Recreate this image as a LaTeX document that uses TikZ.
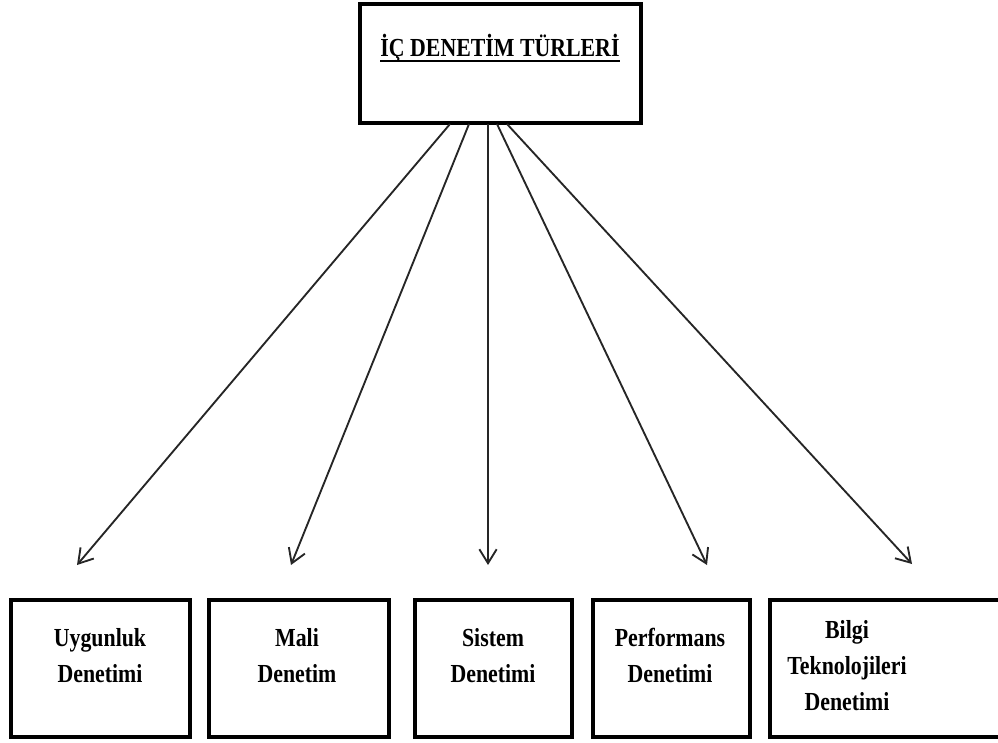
\documentclass[tikz,border=0pt]{standalone}
\usepackage{fontspec}
\setmainfont{Liberation Serif}
\newfontfamily\narrowserif[FakeStretch=0.84]{Liberation Serif}
\usetikzlibrary{arrows.meta}

% underline with a heavier rule a little below the baseline
\newcommand\heavyunderline[1]{\setbox0\hbox{#1}\rlap{\rule[-3.6pt]{\wd0}{1.3pt}}\box0}

\begin{document}
\begin{tikzpicture}[x=0.75pt,y=-0.75pt,
  frame/.style={draw=black,line width=3pt,rectangle,inner sep=0pt},
  boxtext/.style={font=\narrowserif\bfseries\fontsize{19.5}{27}\selectfont,align=center,inner sep=0pt,anchor=north},
  link/.style={draw=black!85,line width=1.4pt,-{Straight Barb[length=10.5pt,width=13pt,line width=1.4pt]}}]
\useasboundingbox (0,0) rectangle (998,742);

% heading box and its underlined title
\node[frame,minimum width=211.1pt,minimum height=88.9pt] (top) at (500.25,63.75) {};
\node[font=\narrowserif\bfseries\fontsize{19.5}{22}\selectfont,anchor=base,inner sep=0pt] (title) at (500,57)
  {\heavyunderline{İÇ DENETİM TÜRLERİ}};

% the five kinds of audit
\node[frame,minimum width=134.6pt,minimum height=103.1pt] (b1) at (100.25,668.25) {};
\node[frame,minimum width=135pt,minimum height=103.1pt] (b2) at (299,668.25) {};
\node[frame,minimum width=117.4pt,minimum height=103.1pt] (b3) at (493.75,668.25) {};
\node[frame,minimum width=117.75pt,minimum height=103.1pt] (b4) at (671.5,668.25) {};
\node[frame,minimum width=174pt,minimum height=103.1pt] (b5) at (886,668.25) {};

\node[boxtext] (l1) at (100,628) {Uygunluk\\Denetimi};
\node[boxtext] (l2) at (297,628) {Mali\\Denetim};
\node[boxtext] (l3) at (493,628) {Sistem\\Denetimi};
\node[boxtext] (l4) at (670,628) {Performans\\Denetimi};
\node[boxtext] (l5) at (847,620) {Bilgi\\Teknolojileri\\Denetimi};

% arrow start points on the heading box and their tips
\coordinate (s1) at (450,124);
\coordinate (s2) at (469,124);
\coordinate (s3) at (488,124);
\coordinate (s4) at (497,124);
\coordinate (s5) at (507,124);
\coordinate (t1) at (77,565);
\coordinate (t2) at (291,565);
\coordinate (t3) at (488,565);
\coordinate (t4) at (707,565);
\coordinate (t5) at (912,564);

\foreach \i in {1,...,5} \draw[link] (s\i) -- (t\i);
\end{tikzpicture}
\end{document}
